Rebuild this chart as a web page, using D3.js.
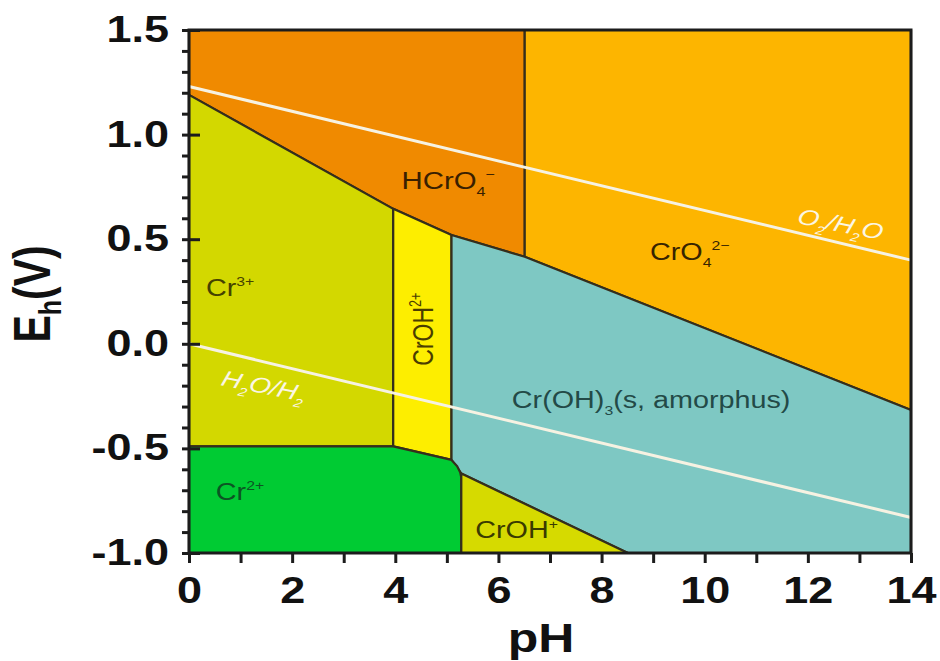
<!DOCTYPE html>
<html>
<head>
<meta charset="utf-8">
<script src="https://cdn.jsdelivr.net/npm/d3@7"></script>
<style>
  body { margin: 0; background: #fff; }
  svg { display: block; }
</style>
</head>
<body>
<svg id="chart" width="940" height="661"></svg>
<script>
// Axis ranges and ticks
const phDomain = [0, 14];
const ehDomain = [-1.0, 1.5];
const phTicks = [0, 1, 2, 3, 4, 5, 6, 7, 8, 9, 10, 11, 12, 13, 14];
const phLabels = [0, 2, 4, 6, 8, 10, 12, 14];
const ehMinorTicks = [-1.0, -0.9, -0.8, -0.7, -0.6, -0.5, -0.4, -0.3, -0.2, -0.1, 0.0,
                      0.1, 0.2, 0.3, 0.4, 0.5, 0.6, 0.7, 0.8, 0.9, 1.0, 1.1, 1.2, 1.3, 1.4, 1.5];
const ehLabels = [-1.0, -0.5, 0.0, 0.5, 1.0, 1.5];

// Water stability lines [pH, Eh]
const o2h2oLine = [[0, 1.23], [14, 0.40]];
const h2oh2Line = [[0, 0.0], [14, -0.83]];

// Stability fields, vertices as [pH, Eh]
const fieldHCrO4 = [[0, 1.5], [6.51, 1.5], [6.51, 0.416], [5.09, 0.52], [3.96, 0.645], [0, 1.19]];
const fieldCrO4 = [[6.51, 1.5], [14, 1.5], [14, -0.316], [6.51, 0.416]];
const fieldCr3 = [[0, 1.19], [3.96, 0.645], [3.96, -0.49], [0, -0.49]];
const fieldCrOH2 = [[3.96, 0.645], [5.09, 0.52], [5.09, -0.555], [3.96, -0.49]];
const fieldCrOH3 = [[5.09, 0.52], [6.51, 0.416], [14, -0.316], [14, -1.0], [8.51, -1.0], [5.28, -0.62], [5.09, -0.555]];
const fieldCr2 = [[0, -0.49], [3.96, -0.49], [5.09, -0.555], [5.2, -0.585], [5.26, -0.615], [5.28, -0.64], [5.28, -1.0], [0, -1.0]];
const fieldCrOH = [[5.28, -0.62], [8.51, -1.0], [5.28, -1.0]];

const fieldNames = ["HCrO4", "CrO4", "Cr3", "CrOH2", "CrOH3", "Cr2", "CrOH"];
const fieldPoints = [fieldHCrO4, fieldCrO4, fieldCr3, fieldCrOH2, fieldCrOH3, fieldCr2, fieldCrOH];

// Labels: text parts ([text, "" | "sub" | "sup"]) and anchor in [pH, Eh]
const labelParts = {
  HCrO4: [["HCrO", ""], ["4", "sub"], ["\u2212", "sup"]],
  CrO4: [["CrO", ""], ["4", "sub"], ["2\u2212", "sup"]],
  Cr3: [["Cr", ""], ["3+", "sup"]],
  CrOH2: [["CrOH", ""], ["2+", "sup"]],
  CrOH3: [["Cr(OH)", ""], ["3", "sub"], ["(s, amorphus)", ""]],
  Cr2: [["Cr", ""], ["2+", "sup"]],
  CrOH: [["CrOH", ""], ["+", "sup"]],
  O2H2O: [["O", ""], ["2", "sub"], ["/H", ""], ["2", "sub"], ["O", ""]],
  H2OH2: [["H", ""], ["2", "sub"], ["O/H", ""], ["2", "sub"]]
};
const labelAnchors = {
  HCrO4: [4.12, 0.74],
  CrO4: [8.94, 0.40],
  Cr3: [0.33, 0.23],
  CrOH2: [4.73, 0.07],
  CrOH3: [6.26, -0.307],
  Cr2: [0.52, -0.747],
  CrOH: [5.55, -0.93],
  O2H2O: [11.77, 0.577],
  H2OH2: [0.6, -0.197]
};

// Styles
const fieldColor = {
  HCrO4: "#f08a00", CrO4: "#fdb500", Cr3: "#d3d800", CrOH2: "#fdee00",
  CrOH3: "#7ec8c3", Cr2: "#00cb33", CrOH: "#d6da00"
};
const labelColor = {
  HCrO4: "#3a1f00", CrO4: "#372400", Cr3: "#454200", CrOH2: "#4a3d00",
  CrOH3: "#234a47", Cr2: "#0c5523", CrOH: "#3a3a00", O2H2O: "#fbf6e4", H2OH2: "#fbf6e4"
};
const stretch = 1.25; // the picture is widened horizontally

const svg = d3.select("#chart");
const plotLeft = 189, plotRight = 911, plotTop = 30, plotBottom = 553;

const x = d3.scaleLinear().domain(phDomain).range([plotLeft, plotRight]);
const y = d3.scaleLinear().domain(ehDomain).range([plotBottom, plotTop]);

const line = d3.line().x(d => x(d[0])).y(d => y(d[1]));

// Fields
svg.append("g")
  .selectAll("path")
  .data(fieldNames)
  .join("path")
  .attr("d", (d, i) => line(fieldPoints[i]) + "Z")
  .attr("fill", d => fieldColor[d])
  .attr("stroke", "#352e1c")
  .attr("stroke-width", 2.2)
  .attr("stroke-linejoin", "round");

// Water lines
svg.append("g")
  .selectAll("path")
  .data([o2h2oLine, h2oh2Line])
  .join("path")
  .attr("d", line)
  .attr("fill", "none")
  .attr("stroke", "#f6f2e2")
  .attr("stroke-width", 3);

// Labels
function drawLabel(key, opts) {
  const a = labelAnchors[key];
  const fs = opts.size;
  const t = svg.append("text")
    .attr("transform", `translate(${x(a[0])},${y(a[1])}) scale(${stretch},1) rotate(${opts.angle || 0})`)
    .attr("font-family", "'Liberation Sans', Arial, sans-serif")
    .attr("font-size", fs)
    .attr("font-style", opts.italic ? "italic" : "normal")
    .attr("text-anchor", opts.anchor || "start")
    .attr("fill", labelColor[key]);
  let shift = 0;
  labelParts[key].forEach(p => {
    const target = p[1] === "sub" ? fs * 0.3 : p[1] === "sup" ? -fs * 0.42 : 0;
    t.append("tspan")
      .attr("dy", target - shift)
      .attr("font-size", p[1] ? fs * 0.55 : fs)
      .text(p[0]);
    shift = target;
  });
}

drawLabel("HCrO4", { size: 23.5 });
drawLabel("CrO4", { size: 23 });
drawLabel("Cr3", { size: 23 });
drawLabel("CrOH2", { size: 23, angle: -90, anchor: "middle" });
drawLabel("CrOH3", { size: 23 });
drawLabel("Cr2", { size: 23 });
drawLabel("CrOH", { size: 23 });
drawLabel("O2H2O", { size: 22, italic: true, angle: 14 });
drawLabel("H2OH2", { size: 22, italic: true, angle: 14 });

// Frame
svg.append("rect")
  .attr("x", x(0))
  .attr("y", y(1.5))
  .attr("width", x(14) - x(0))
  .attr("height", y(-1.0) - y(1.5))
  .attr("fill", "none")
  .attr("stroke", "#1c1c1c")
  .attr("stroke-width", 3);

// Axes
const tickFont = "'Liberation Sans', Arial, sans-serif";

const xAxis = svg.append("g")
  .attr("transform", `translate(0,${plotBottom})`)
  .call(d3.axisBottom(x).tickValues(phTicks).tickSize(10).tickPadding(14)
    .tickFormat(d => phLabels.includes(d) ? d : ""));
xAxis.select(".domain").remove();
xAxis.selectAll("line").attr("stroke", "#1c1c1c").attr("stroke-width", 3);
xAxis.selectAll("text")
  .attr("font-family", tickFont)
  .attr("font-weight", "bold")
  .attr("font-size", 36)
  .attr("fill", "#111")
  .attr("transform", `scale(${stretch},1)`);

const yMinor = svg.append("g")
  .attr("transform", `translate(${plotLeft},0)`)
  .call(d3.axisLeft(y).tickValues(ehMinorTicks).tickSize(7).tickFormat(""));
yMinor.select(".domain").remove();
yMinor.selectAll("line").attr("stroke", "#1c1c1c").attr("stroke-width", 3);

const yAxis = svg.append("g")
  .attr("transform", `translate(${plotLeft},0)`)
  .call(d3.axisLeft(y).tickValues(ehLabels).tickSizeInner(-11).tickSizeOuter(0).tickPadding(16)
    .tickFormat(d3.format(".1f")));
yAxis.select(".domain").remove();
yAxis.selectAll("line").attr("stroke", "#1c1c1c").attr("stroke-width", 3);
yAxis.selectAll("text")
  .text(d => d3.format(".1f")(d).replace("\u2212", "-"))
  .attr("font-family", tickFont)
  .attr("font-weight", "bold")
  .attr("font-size", 36)
  .attr("fill", "#111")
  .attr("transform", `scale(${stretch},1)`);

// Axis titles
svg.append("text")
  .attr("transform", `translate(541,652) scale(${stretch},1)`)
  .attr("text-anchor", "middle")
  .attr("font-family", tickFont)
  .attr("font-weight", "bold")
  .attr("font-size", 40)
  .attr("fill", "#111")
  .text("pH");

const yTitle = svg.append("text")
  .attr("transform", `translate(50,294) scale(${stretch},1) rotate(-90)`)
  .attr("text-anchor", "middle")
  .attr("font-family", tickFont)
  .attr("font-weight", "bold")
  .attr("font-size", 41)
  .attr("fill", "#111");
yTitle.append("tspan").text("E");
yTitle.append("tspan").attr("font-size", 25).attr("dy", 9).text("h");
yTitle.append("tspan").attr("dy", -9).text("(V)");
</script>
</body>
</html>
